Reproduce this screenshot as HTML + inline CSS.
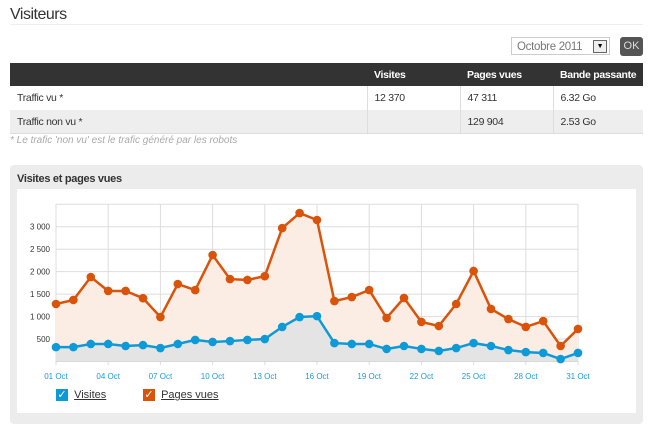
<!DOCTYPE html>
<html><head><meta charset="utf-8"><style>
body{margin:0;width:650px;height:432px;background:#fff;font-family:"Liberation Sans",Arial,sans-serif;position:relative;overflow:hidden}
.a{position:absolute}
table{border-collapse:collapse;font-size:10.5px;color:#333;letter-spacing:-0.3px;table-layout:fixed}
td,th{height:23px;padding:0 0 0 7px;text-align:left;white-space:nowrap}
</style></head><body>
<div class="a" style="left:10px;top:6px;font-size:16px;color:#333;letter-spacing:-0.5px">Visiteurs</div>
<div class="a" style="left:10px;top:24px;width:633px;border-top:1px solid #eee"></div>
<div class="a" style="left:511px;top:37px;width:99px;height:18px;border:1px solid #ccc;font-size:11.5px;color:#777;line-height:18px;box-sizing:border-box;padding-left:5px;letter-spacing:-0.3px">Octobre 2011<div class="a" style="right:2px;top:2px;width:12px;height:11px;border:1px solid #666;background:#eee;font-size:7px;line-height:11px;text-align:center;color:#000">▼</div></div>
<div class="a" style="left:620px;top:37px;width:23px;height:19px;background:#555;border-radius:3px;color:#ddd;font-size:11px;line-height:19px;text-align:center">OK</div>
<table class="a" style="left:10px;top:63px;width:633px">
<colgroup><col style="width:357px"><col style="width:93px"><col style="width:93px"><col></colgroup>
<tr style="background:#333;color:#fff"><th style="height:21px"></th><th>Visites</th><th>Pages vues</th><th>Bande passante</th></tr>
<tr><td style="height:24px">Traffic vu *</td><td style="border-left:1px solid #ddd">12 370</td><td style="border-left:1px solid #ddd">47 311</td><td style="border-left:1px solid #ddd">6.32 Go</td></tr>
<tr style="background:#eee;border-bottom:1px solid #ddd"><td>Traffic non vu *</td><td style="border-left:1px solid #ddd"></td><td style="border-left:1px solid #ddd">129 904</td><td style="border-left:1px solid #ddd">2.53 Go</td></tr>
</table>
<div class="a" style="left:10px;top:135px;font-size:10px;font-style:italic;color:#aaa">* Le trafic 'non vu' est le trafic généré par les robots</div>
<div class="a" style="left:10px;top:165px;width:633px;height:259px;background:#ececec;border-radius:4px"></div>
<div class="a" style="left:17px;top:173px;font-size:11px;font-weight:bold;color:#333;letter-spacing:-0.3px">Visites et pages vues</div>
<div class="a" style="left:17px;top:189px;width:619px;height:224px;background:#fff"></div>
<svg class="a" style="left:0;top:0" width="650" height="432" id="chart"></svg>
<div class="a" style="left:56px;top:389px;font-size:11px;color:#333"><span style="display:inline-block;width:12px;height:12px;background:#0e9ad6;color:#fff;font-size:11px;line-height:12px;text-align:center;vertical-align:middle">✓</span> <u style="margin-left:3px">Visites</u></div>
<div class="a" style="left:143px;top:389px;font-size:11px;color:#333"><span style="display:inline-block;width:12px;height:12px;background:#d9540a;color:#fff;font-size:11px;line-height:12px;text-align:center;vertical-align:middle">✓</span> <u style="margin-left:3px">Pages vues</u></div>
<script>
const days=[...Array(31)].map((_,i)=>String(i+1).padStart(2,'0')+' Oct');
const pages=[1280,1370,1880,1570,1570,1410,990,1725,1590,2370,1835,1815,1900,2970,3305,3150,1345,1435,1590,970,1415,880,790,1280,2015,1170,945,770,900,345,725];
const visites=[320,320,390,390,345,365,300,390,480,435,455,480,500,770,990,1010,410,390,390,280,345,280,235,300,410,345,255,210,190,55,190];
const yTicks=[500,1000,1500,2000,2500,3000,3500];
const yLabels=['500','1 000','1 500','2 000','2 500','3 000',''];
const svg=document.getElementById('chart'),NS='http://www.w3.org/2000/svg';
const X=i=>56+i*(522/30),Y=v=>361.5-v*0.04492;
function el(t,a,p){const e=document.createElementNS(NS,t);for(const k in a)e.setAttribute(k,a[k]);(p||svg).appendChild(e);return e;}
for(let i=0;i<31;i+=3){const g=el('line',{x1:X(i),x2:X(i),y1:204,y2:365,stroke:'#ddd'});


const t=el('text',{x:X(i),y:379,'font-size':8,fill:'#1a9bd7','text-anchor':'middle','font-family':'Liberation Sans'});t.textContent=days[i];

}
el('line',{x1:X(30),x2:X(30),y1:204,y2:362,stroke:'#ddd'});
yTicks.forEach((v,k)=>{const g=el('line',{x1:56,x2:X(30),y1:Y(v),y2:Y(v),stroke:'#ddd'});


const t=el('text',{x:50,y:Y(v)+3,'font-size':8,fill:'#333','text-anchor':'end','font-family':'Liberation Sans'});t.textContent=yLabels[k];

});
el('line',{x1:56,x2:X(30),y1:Y(0),y2:Y(0),stroke:'#ccc'});
function series(d,c,fill,name){
const pts=d.map((v,i)=>X(i)+','+Y(v)).join(' ');
const a=el('polygon',{points:X(0)+','+Y(0)+' '+pts+' '+X(30)+','+Y(0),fill:fill});


const l=el('polyline',{points:pts,fill:'none',stroke:c,'stroke-width':2.5});


d.forEach((v,i)=>{const p=el('circle',{cx:X(i),cy:Y(v),r:4.3,fill:c});

});}
series(pages,'#d9540a','#fbece4','pages-vues');
series(visites,'#0e9ad6','#e4e4e4','visites');
</script>
</body></html>
